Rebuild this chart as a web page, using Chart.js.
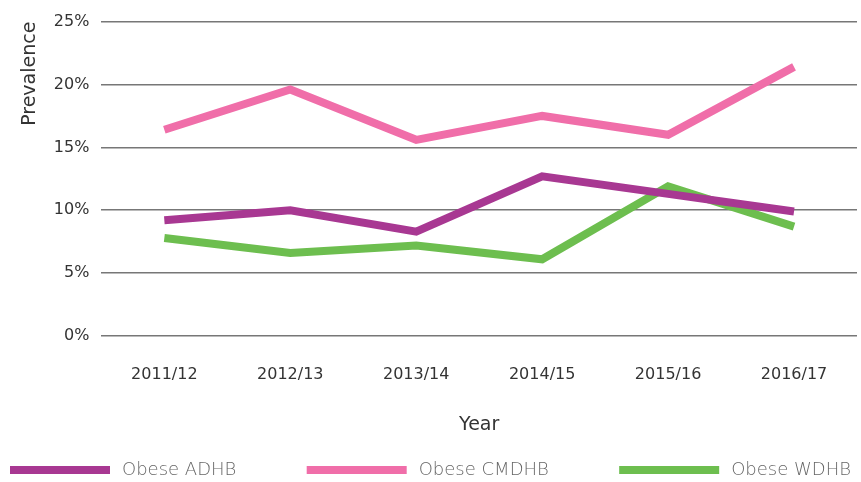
<!DOCTYPE html>
<html>
<head>
<meta charset="utf-8">
<script src="https://cdn.jsdelivr.net/npm/chart.js@4/dist/chart.umd.min.js"></script>
<style>
  html, body { margin: 0; padding: 0; background: #fff; }
  #wrap { width: 861px; height: 482px; }
</style>
</head>
<body>
<div id="wrap"><canvas id="chart"></canvas></div>
<script>
// Dữ liệu biểu đồ
const years = ['2011/12', '2012/13', '2013/14', '2014/15', '2015/16', '2016/17'];
const obeseADHB = [9.2, 10.0, 8.3, 12.7, 11.3, 9.9];
const obeseCMDHB = [16.4, 19.6, 15.6, 17.5, 16.0, 21.4];
const obeseWDHB = [7.8, 6.6, 7.2, 6.1, 11.9, 8.7];
const yTicks = [0, 5, 10, 15, 20, 25];

const FONT = '"DejaVu Sans", sans-serif';

const makeSet = (label, data, color) => ({
    label,
    data,
    borderColor: color,
    backgroundColor: color,
    borderWidth: 8,
    pointRadius: 0,
    tension: 0,
    fill: false
});

// Chú giải trải đều theo chiều ngang ở đáy
const wideLegend = {
    id: 'wideLegend',
    afterDraw(chart) {
        const ctx = chart.ctx;
        const boxW = 100, boxH = 8, gapText = 12, margin = 10, y = 470;
        ctx.save();
        ctx.font = '300 18px ' + FONT;
        const items = chart.data.datasets.map(ds => ({
            label: ds.label,
            color: ds.borderColor,
            w: boxW + gapText + ctx.measureText(ds.label).width
        }));
        const total = items.reduce((a, it) => a + it.w, 0);
        const gap = (chart.width - 2 * margin - total) / (items.length - 1);
        let x = margin;
        items.forEach(it => {
            ctx.fillStyle = it.color;
            ctx.fillRect(x, y - boxH / 2, boxW, boxH);
            ctx.fillStyle = '#666';
            ctx.textBaseline = 'middle';
            ctx.textAlign = 'left';
            ctx.fillText(it.label, x + boxW + gapText, y);
            x += it.w + gap;
        });
        ctx.restore();
    }
};

new Chart(document.getElementById('chart'), {
    type: 'line',
    data: {
        labels: years,
        datasets: [
            makeSet('Obese ADHB', obeseADHB, '#a83892'),
            makeSet('Obese CMDHB', obeseCMDHB, '#f06ea9'),
            makeSet('Obese WDHB', obeseWDHB, '#6dbe4f')
        ]
    },
    plugins: [wideLegend],
    options: {
        responsive: true,
        maintainAspectRatio: false,
        animation: false,
        layout: { padding: { left: 19, right: 4, top: 18, bottom: 46 } },
        plugins: {
            legend: { display: false },
            tooltip: { enabled: false }
        },
        scales: {
            x: {
                offset: true,
                grid: { display: false, drawTicks: false },
                border: { display: false },
                ticks: {
                    color: '#333',
                    padding: 29,
                    font: { family: FONT, size: 16 }
                },
                title: {
                    display: true,
                    text: 'Year',
                    color: '#333',
                    padding: { top: 0, bottom: 0 },
                    font: { family: FONT, size: 19 }
                }
            },
            y: {
                min: 0,
                max: 25,
                afterBuildTicks: (axis) => {
                    axis.ticks = yTicks.map(v => ({ value: v }));
                },
                grid: { color: '#777', lineWidth: 1.5, drawTicks: false },
                border: { display: false },
                ticks: {
                    color: '#333',
                    padding: 12,
                    font: { family: FONT, size: 16 },
                    callback: (v) => v + '%'
                },
                title: {
                    display: true,
                    text: 'Prevalence',
                    align: 'end',
                    color: '#333',
                    padding: { top: 0, bottom: 0 },
                    font: { family: FONT, size: 19 }
                }
            }
        }
    }
});
</script>
</body>
</html>
